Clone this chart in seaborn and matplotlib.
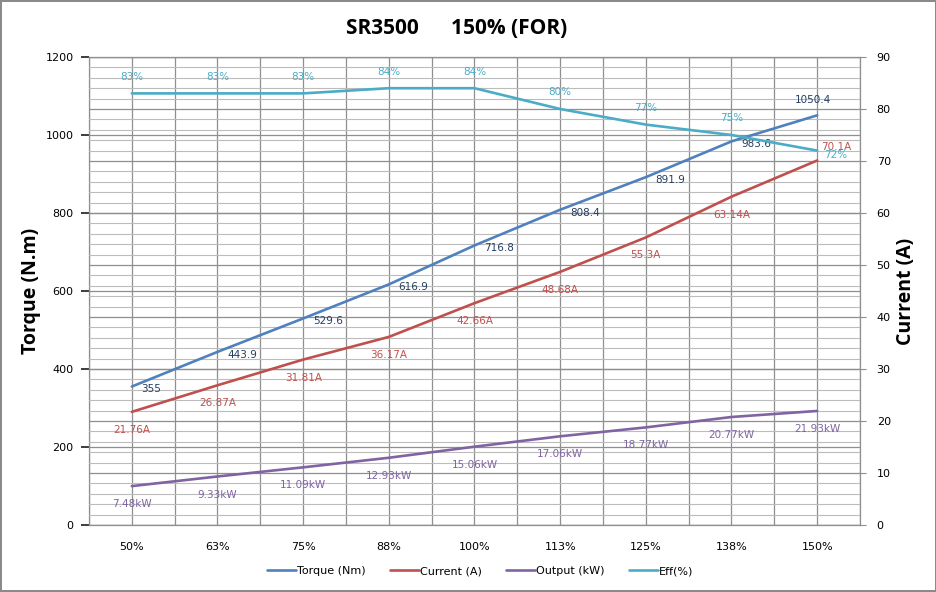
import numpy as np
import pandas as pd
import matplotlib
matplotlib.use("Agg")
import matplotlib.pyplot as plt
from matplotlib.ticker import MultipleLocator
import seaborn as sns

categories = ["50%", "63%", "75%", "88%", "100%", "113%", "125%", "138%", "150%"]
torque = [355, 443.9, 529.6, 616.9, 716.8, 808.4, 891.9, 983.6, 1050.4]
current = [21.76, 26.87, 31.81, 36.17, 42.66, 48.68, 55.3, 63.14, 70.1]
output = [7.48, 9.33, 11.09, 12.93, 15.06, 17.06, 18.77, 20.77, 21.93]
eff = [83, 83, 83, 84, 84, 80, 77, 75, 72]

torque_labels = ["355", "443.9", "529.6", "616.9", "716.8", "808.4", "891.9", "983.6", "1050.4"]
current_labels = ["21.76A", "26.87A", "31.81A", "36.17A", "42.66A", "48.68A", "55.3A", "63.14A", "70.1A"]
output_labels = ["7.48kW", "9.33kW", "11.09kW", "12.93kW", "15.06kW", "17.06kW", "18.77kW", "20.77kW", "21.93kW"]
eff_labels = ["83%", "83%", "83%", "84%", "84%", "80%", "77%", "75%", "72%"]

df = pd.DataFrame({"cat": categories, "pos": np.arange(len(categories)),
                   "torque": torque, "current": current, "output": output, "eff": eff})

sns.set_theme(style="white")
plt.rcParams["font.family"] = ["DejaVu Sans"]
plt.rcParams["text.color"] = "black"
plt.rcParams["axes.labelcolor"] = "black"

C_T, C_C, C_O, C_E = "#4F81BD", "#C0504D", "#8064A2", "#4BACC6"

fig = plt.figure(figsize=(9.37, 5.92), dpi=100, linewidth=1.5, edgecolor="#8a8a8a")
pos = [89 / 937, 1 - 525 / 592, (860 - 89) / 937, (525 - 57) / 592]

xlim = (-0.5, len(categories) - 0.5)

# grid axes (bottom)
gL = fig.add_axes(pos)
gL.set_zorder(0)
gL.set_xlim(*xlim)
gL.set_ylim(0, 1200)
gL.xaxis.set_major_locator(MultipleLocator(0.5))
gL.yaxis.set_major_locator(MultipleLocator(200))
gL.grid(True, axis="both", which="major", color="#8f8f8f", linewidth=0.9)
gL.tick_params(which="both", left=False, bottom=False, labelleft=False, labelbottom=False)
for s in gL.spines.values():
    s.set_color("#8f8f8f")
    s.set_linewidth(0.9)

gR = gL.twinx()
gR.set_zorder(0.5)
gR.patch.set_visible(False)
gR.set_ylim(0, 90)
gR.yaxis.set_major_locator(MultipleLocator(10))
gR.yaxis.set_minor_locator(MultipleLocator(2))
gR.grid(True, axis="y", which="major", color="#8f8f8f", linewidth=0.9)
gR.grid(True, axis="y", which="minor", color="#bcbcbc", linewidth=0.8)
gR.tick_params(which="both", left=False, right=False, labelright=False, labelleft=False)
for s in gR.spines.values():
    s.set_visible(False)

# data axes
ax = fig.add_axes(pos)
ax.set_zorder(1)
ax.patch.set_visible(False)
ax2 = ax.twinx()
ax2.set_zorder(2)
ax2.patch.set_visible(False)

lw = 1.9
sns.lineplot(data=df, x="pos", y="torque", ax=ax, color=C_T, linewidth=lw, label="Torque (Nm)", legend=False)
sns.lineplot(data=df, x="pos", y="current", ax=ax2, color=C_C, linewidth=lw, label="Current (A)", legend=False)
sns.lineplot(data=df, x="pos", y="output", ax=ax2, color=C_O, linewidth=lw, label="Output (kW)", legend=False)
sns.lineplot(data=df, x="pos", y="eff", ax=ax2, color=C_E, linewidth=lw, label="Eff(%)", legend=False)

for a in (ax, ax2):
    a.set_xlim(*xlim)
    for s in a.spines.values():
        s.set_visible(False)
    a.grid(False)

ax.set_ylim(0, 1200)
ax2.set_ylim(0, 90)
ax.yaxis.set_major_locator(MultipleLocator(200))
ax2.yaxis.set_major_locator(MultipleLocator(10))
ax.set_xticks(df["pos"])
ax.set_xticklabels(categories)
ax.tick_params(axis="x", which="both", length=0, pad=12, labelsize=8, labelcolor="black")
ax.tick_params(axis="y", which="both", left=False, length=0, pad=11, labelsize=8, labelcolor="black")
ax2.tick_params(axis="y", right=True, length=4, width=0.8, color="#8f8f8f", direction="out",
                pad=8, labelsize=8, labelcolor="black")

ax.set_xlabel("")
ax.set_ylabel("Torque (N.m)", fontsize=14, fontweight="bold", family=["Open Sans", "DejaVu Sans"],
              labelpad=3, color="black")
ax2.set_ylabel("Current (A)", fontsize=14, fontweight="bold", family=["Open Sans", "DejaVu Sans"],
               labelpad=4, color="black")

lab_fs = 7.5
for x, y, t in zip(df["pos"], torque, torque_labels):
    if x == len(categories) - 1:
        ax.annotate(t, (x, y), xytext=(-3, 11), textcoords="offset points", ha="center", va="center",
                    fontsize=lab_fs, color="#243F60")
    else:
        ax.annotate(t, (x, y), xytext=(7, -2), textcoords="offset points", ha="left", va="center",
                    fontsize=lab_fs, color="#243F60")
for x, y, t in zip(df["pos"], current, current_labels):
    if x == len(categories) - 1:
        ax2.annotate(t, (x, y), xytext=(3, 10), textcoords="offset points", ha="left", va="center",
                     fontsize=lab_fs, color=C_C)
    else:
        ax2.annotate(t, (x, y), xytext=(0, -13), textcoords="offset points", ha="center", va="center",
                     fontsize=lab_fs, color=C_C)
for x, y, t in zip(df["pos"], output, output_labels):
    ax2.annotate(t, (x, y), xytext=(0, -13), textcoords="offset points", ha="center", va="center",
                 fontsize=lab_fs, color=C_O)
for x, y, t in zip(df["pos"], eff, eff_labels):
    if x == len(categories) - 1:
        ax2.annotate(t, (x, y), xytext=(5, -3), textcoords="offset points", ha="left", va="center",
                     fontsize=lab_fs, color=C_E)
    else:
        ax2.annotate(t, (x, y), xytext=(0, 12), textcoords="offset points", ha="center", va="center",
                     fontsize=lab_fs, color=C_E)

fig.text(457 / 937, 1 - 29 / 592, "SR3500      150% (FOR)", ha="center", va="center",
         fontsize=15, fontweight="bold", family=["Open Sans", "DejaVu Sans"], color="black")

h1, l1 = ax.get_legend_handles_labels()
h2, l2 = ax2.get_legend_handles_labels()
fig.legend(h1 + h2, l1 + l2, loc="center", bbox_to_anchor=(480 / 937, 1 - 571 / 592), ncol=4,
           frameon=False, fontsize=8, handlelength=2.6, handletextpad=0.1, columnspacing=2.2)

fig.savefig("out.png", dpi=100)
